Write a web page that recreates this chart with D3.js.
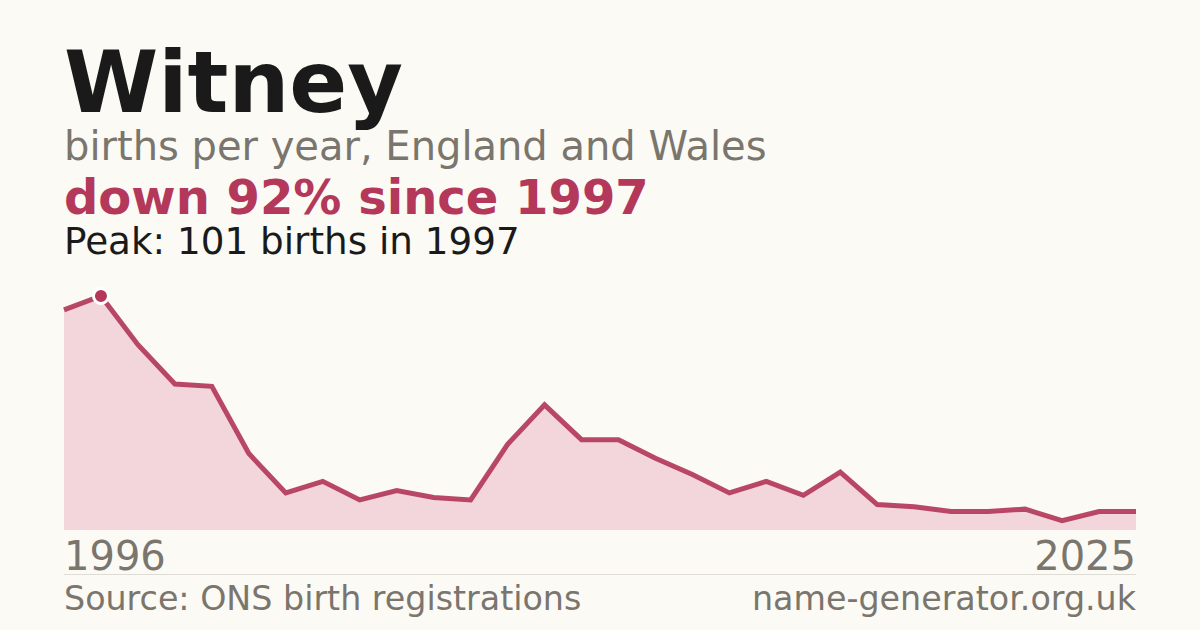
<!DOCTYPE html>
<html>
<head>
<meta charset="utf-8">
<script src="https://cdn.jsdelivr.net/npm/d3@7"></script>
<style>
    body { margin: 0; background: #fbfaf5; }
    svg { display: block; font-family: "DejaVu Sans", sans-serif; }
</style>
</head>
<body>
<div id="chart"></div>
<script>
// births per year, 1996 .. 2025
const years = d3.range(1996, 2026);
const births = [95, 101, 80, 63, 62, 33, 16, 21, 13, 17,
                14, 13, 37, 54, 39, 39, 31, 24, 16, 21,
                15, 25, 11, 10, 8, 8, 9, 4, 8, 8];

const title = "Witney";
const subtitle = "births per year, England and Wales";
const headline = "down 92% since 1997";
const peakNote = "Peak: 101 births in 1997";
const sourceNote = "Source: ONS birth registrations";
const siteNote = "name-generator.org.uk";

const width = 1200, height = 630;
const red = "#b3385a";
const grey = "#7a756d";

const svg = d3.select("#chart")
    .append("svg")
    .attr("width", width)
    .attr("height", height);

svg.append("rect")
    .attr("width", width)
    .attr("height", height)
    .attr("fill", "#fbfaf5");

// header texts
svg.append("text").attr("x", 64).attr("y", 112)
    .attr("font-size", 85.5).attr("font-weight", "bold").attr("fill", "#1a1a1a")
    .text(title);
svg.append("text").attr("x", 64).attr("y", 160)
    .attr("font-size", 40).attr("fill", grey)
    .text(subtitle);
svg.append("text").attr("x", 64).attr("y", 214)
    .attr("font-size", 48).attr("font-weight", "bold").attr("fill", red)
    .text(headline);
svg.append("text").attr("x", 64).attr("y", 254)
    .attr("font-size", 37.3).attr("fill", "#1a1a1a")
    .text(peakNote);

const data = years.map((y, i) => ({year: y, value: births[i]}));

const x = d3.scaleLinear()
    .domain(d3.extent(years))
    .range([64, 1136]);
const y = d3.scaleLinear()
    .domain([0, d3.max(births)])
    .range([530, 296]);

const area = d3.area()
    .x(d => x(d.year))
    .y0(y(0))
    .y1(d => y(d.value));
const line = d3.line()
    .x(d => x(d.year))
    .y(d => y(d.value));

svg.append("path")
    .datum(data)
    .attr("d", area)
    .attr("fill", "#f2d6db");

svg.append("path")
    .datum(data)
    .attr("d", line)
    .attr("fill", "none")
    .attr("stroke", red)
    .attr("stroke-opacity", 0.92)
    .attr("stroke-width", 5);

// peak marker
const peak = data.reduce((a, b) => b.value > a.value ? b : a);
svg.append("circle")
    .attr("cx", x(peak.year))
    .attr("cy", y(peak.value))
    .attr("r", 7.5)
    .attr("fill", red)
    .attr("stroke", "#ffffff")
    .attr("stroke-width", 3);

// first / last year labels
svg.append("text").attr("x", 64).attr("y", 570)
    .attr("font-size", 40).attr("fill", grey)
    .text(years[0]);
svg.append("text").attr("x", 1136).attr("y", 570)
    .attr("font-size", 40).attr("fill", grey).attr("text-anchor", "end")
    .text(years[years.length - 1]);

svg.append("line")
    .attr("x1", 64).attr("x2", 1136)
    .attr("y1", 574.5).attr("y2", 574.5)
    .attr("stroke", "#dedbd4").attr("stroke-width", 1);

// footer
svg.append("text").attr("x", 64).attr("y", 610)
    .attr("font-size", 33.3).attr("fill", grey)
    .text(sourceNote);
svg.append("text").attr("x", 1136).attr("y", 610)
    .attr("font-size", 33.3).attr("fill", grey).attr("text-anchor", "end")
    .text(siteNote);
</script>
</body>
</html>
